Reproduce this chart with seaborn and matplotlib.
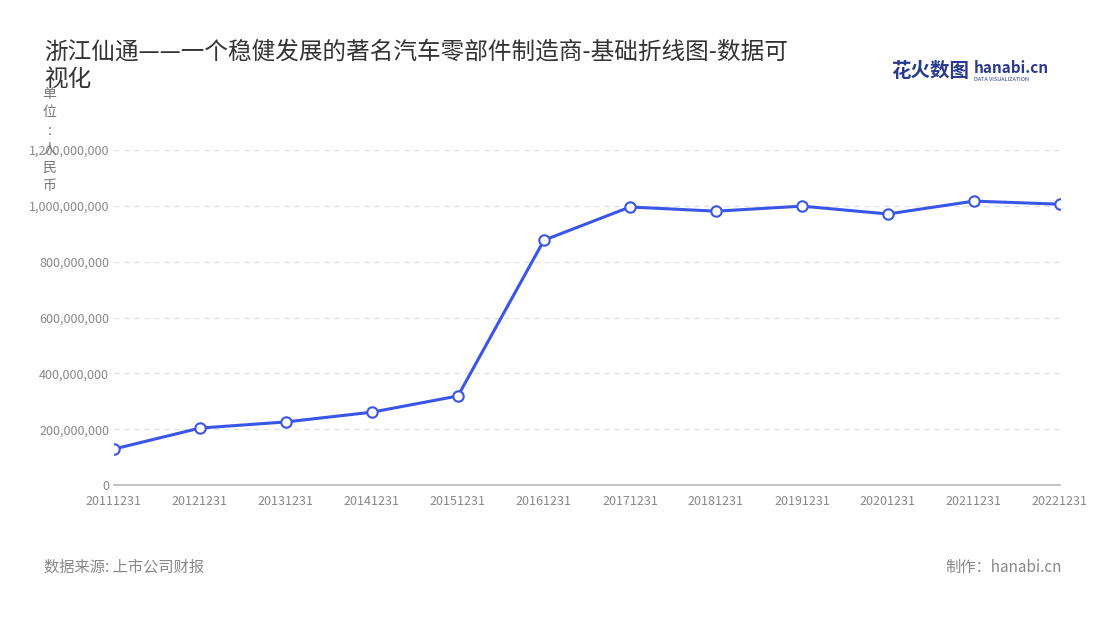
import matplotlib
matplotlib.use("Agg")
import matplotlib.pyplot as plt
import seaborn as sns
import pandas as pd
from matplotlib.ticker import FuncFormatter

dates = ["20111231","20121231","20131231","20141231","20151231","20161231",
         "20171231","20181231","20191231","20201231","20211231","20221231"]
values = [129e6, 204e6, 226e6, 261e6, 319e6, 877e6,
          996e6, 981e6, 999e6, 971e6, 1017e6, 1006e6]

sns.set_theme(style="white")
plt.rcParams['font.family'] = ['Noto Sans CJK SC', 'DejaVu Sans']

fig = plt.figure(figsize=(11, 6.2), dpi=100)
ax = fig.add_axes([0.1036, 0.2177, 0.86, 0.5403])
df = pd.DataFrame({"x": range(len(dates)), "y": values})
sns.lineplot(data=df, x="x", y="y", ax=ax, color="#3a56e8", linewidth=2.2,
             marker="o", markersize=7.5, markerfacecolor="white",
             markeredgecolor="#3a56e8", markeredgewidth=1.5)
ax.set_xlim(0, len(dates) - 1)
ax.set_ylim(0, 1.2e9)
ax.set_xticks(range(len(dates)))
ax.set_xticklabels(dates)
ax.set_yticks([i * 2e8 for i in range(7)])
ax.yaxis.set_major_formatter(FuncFormatter(lambda v, p: f"{int(v):,}"))
ax.tick_params(axis='both', labelsize=9, colors="#888888", length=4)
ax.tick_params(axis='y', length=0)
ax.tick_params(axis='x', color="#bbbbbb")
ax.set_xlabel(""); ax.set_ylabel("")
ax.yaxis.grid(True, linestyle=(0, (4, 4)), color="#dddddd", linewidth=0.9)
for s in ["top", "right", "left"]:
    ax.spines[s].set_visible(False)
ax.spines["bottom"].set_color("#bbbbbb")

fig.text(0.04, 0.935, "浙江仙通——一个稳健发展的著名汽车零部件制造商-基础折线图-数据可\n视化",
         fontsize=17, color="#333333", va="top", linespacing=1.25)
fig.text(0.045, 0.86, "单\n位\n:\n人\n民\n币", fontsize=10, color="#777777",
         va="top", ha="center", linespacing=1.4)
fig.text(0.81, 0.885, "花火数图", fontsize=14, color="#2a3a8c", weight="bold", va="center")
fig.text(0.885, 0.89, "hanabi.cn", fontsize=11, color="#2a3a8c", weight="bold", va="center")
fig.text(0.885, 0.872, "DATA VISUALIZATION", fontsize=4, color="#2a3a8c", va="center")
fig.text(0.04, 0.085, "数据来源: 上市公司财报", fontsize=11, color="#888888", va="center")
fig.text(0.965, 0.085, "制作：hanabi.cn", fontsize=11, color="#888888", va="center", ha="right")

fig.savefig("out.png", dpi=100)
